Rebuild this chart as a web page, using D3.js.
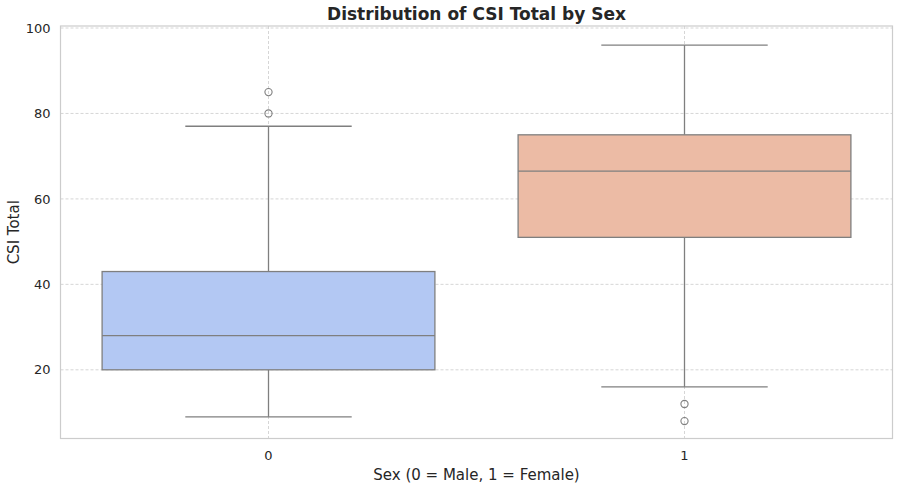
<!DOCTYPE html>
<html>
<head>
<meta charset="utf-8">
<script src="https://cdn.jsdelivr.net/npm/d3@7"></script>
<style>
html,body{margin:0;padding:0;background:#fff;}
svg{display:block;font-family:"DejaVu Sans",sans-serif;}
</style>
</head>
<body>
<svg id="chart" width="900" height="490"></svg>
<script>
const categories = ["0", "1"];
const q1 = [20, 51];
const medians = [28, 66.5];
const q3 = [43, 75];
const whiskerLow = [9, 16];
const whiskerHigh = [77, 96];
const outliers = [[80, 85], [12, 8]];
const yTicks = [20, 40, 60, 80, 100];
const colors = ["#b3c8f3", "#ecbba5"];

const svg = d3.select("#chart");
const m = {left: 60.5, right: 892.5, top: 26, bottom: 438.5};

const x = d3.scaleBand().domain(categories).range([m.left, m.right]).paddingInner(0).paddingOuter(0);
const y = d3.scaleLinear().domain([3.92, 100.47]).range([m.bottom, m.top]);

const textColor = "#262626";
const gridColor = "#cccccc";

// grid
const g = svg.append("g");
g.selectAll(".hg").data(yTicks).enter().append("line")
  .attr("x1", m.left).attr("x2", m.right)
  .attr("y1", d => y(d)).attr("y2", d => y(d))
  .attr("stroke", gridColor).attr("stroke-width", 0.8).attr("stroke-dasharray", "3,2");
g.selectAll(".vg").data(categories).enter().append("line")
  .attr("x1", d => x(d) + x.bandwidth()/2).attr("x2", d => x(d) + x.bandwidth()/2)
  .attr("y1", m.top).attr("y2", m.bottom)
  .attr("stroke", gridColor).attr("stroke-width", 0.8).attr("stroke-dasharray", "3,2");

// boxes
const boxW = x.bandwidth() * 0.8;
const capW = boxW / 2;
const lineColor = "#7f7f7f";
const boxes = svg.append("g");
categories.forEach((c, i) => {
  const cx = x(c) + x.bandwidth()/2;
  boxes.append("line").attr("x1", cx).attr("x2", cx)
    .attr("y1", y(q3[i])).attr("y2", y(whiskerHigh[i]))
    .attr("stroke", lineColor).attr("stroke-width", 1.3);
  boxes.append("line").attr("x1", cx).attr("x2", cx)
    .attr("y1", y(q1[i])).attr("y2", y(whiskerLow[i]))
    .attr("stroke", lineColor).attr("stroke-width", 1.3);
  boxes.append("line").attr("x1", cx - capW/2).attr("x2", cx + capW/2)
    .attr("y1", y(whiskerHigh[i])).attr("y2", y(whiskerHigh[i]))
    .attr("stroke", lineColor).attr("stroke-width", 1.3);
  boxes.append("line").attr("x1", cx - capW/2).attr("x2", cx + capW/2)
    .attr("y1", y(whiskerLow[i])).attr("y2", y(whiskerLow[i]))
    .attr("stroke", lineColor).attr("stroke-width", 1.3);
  boxes.append("rect").attr("x", cx - boxW/2).attr("width", boxW)
    .attr("y", y(q3[i])).attr("height", y(q1[i]) - y(q3[i]))
    .attr("fill", colors[i]).attr("stroke", lineColor).attr("stroke-width", 1.3);
  boxes.append("line").attr("x1", cx - boxW/2).attr("x2", cx + boxW/2)
    .attr("y1", y(medians[i])).attr("y2", y(medians[i]))
    .attr("stroke", lineColor).attr("stroke-width", 1.3);
  boxes.selectAll(null).data(outliers[i]).enter().append("circle")
    .attr("cx", cx).attr("cy", d => y(d)).attr("r", 3.6)
    .attr("fill", "none").attr("stroke", lineColor).attr("stroke-width", 1.1);
});

// spines
svg.append("rect").attr("x", m.left).attr("y", m.top)
  .attr("width", m.right - m.left).attr("height", m.bottom - m.top)
  .attr("fill", "none").attr("stroke", gridColor).attr("stroke-width", 1.2);

// axes
const yAxis = d3.axisLeft(y).tickValues(yTicks).tickSize(0).tickPadding(10);
const ya = svg.append("g").attr("transform", `translate(${m.left},0)`).call(yAxis);
ya.select(".domain").remove();
ya.selectAll("text").attr("fill", textColor).style("font-size", "13px").style("font-family", "DejaVu Sans, sans-serif");

const xAxis = d3.axisBottom(x).tickSize(0).tickPadding(12);
const xa = svg.append("g").attr("transform", `translate(0,${m.bottom})`).call(xAxis);
xa.select(".domain").remove();
xa.selectAll("text").attr("fill", textColor).style("font-size", "13px").style("font-family", "DejaVu Sans, sans-serif");

// labels
svg.append("text").attr("x", (m.left + m.right)/2).attr("y", 20)
  .attr("text-anchor", "middle").attr("fill", textColor)
  .style("font-size", "17px").style("font-weight", "bold").text("Distribution of CSI Total by Sex");
svg.append("text").attr("x", (m.left + m.right)/2).attr("y", 480)
  .attr("text-anchor", "middle").attr("fill", textColor)
  .style("font-size", "15px").text("Sex (0 = Male, 1 = Female)");
svg.append("text").attr("transform", `translate(19,${(m.top + m.bottom)/2}) rotate(-90)`)
  .attr("text-anchor", "middle").attr("fill", textColor)
  .style("font-size", "15px").text("CSI Total");
</script>
</body>
</html>
